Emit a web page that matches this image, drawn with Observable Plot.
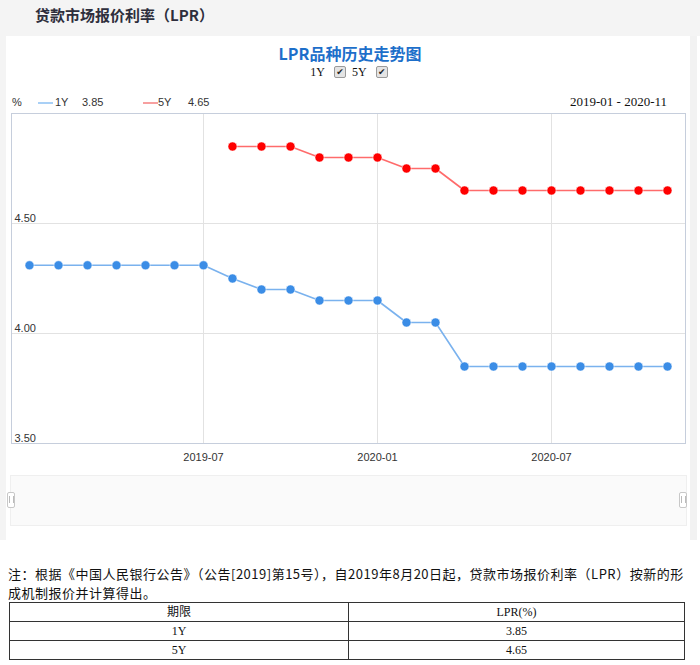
<!DOCTYPE html>
<html><head><meta charset="utf-8">
<script src="https://cdn.jsdelivr.net/npm/d3@7"></script>
<script src="https://cdn.jsdelivr.net/npm/@observablehq/plot@0.6"></script>
<style>
body{margin:0;width:700px;height:665px;position:relative;background:#fff;font-family:Arial,"Liberation Sans","Noto Sans CJK SC",sans-serif;overflow:hidden}
.abs{position:absolute}
#top{left:0;top:0;width:700px;height:36px;background:#f4f4f4}
#lstrip{left:0;top:36px;width:6px;height:504px;background:#f4f4f4}
#rstrip{left:690px;top:36px;width:7px;height:504px;background:#f2f2f2}
#head{left:35px;top:5px;font:bold 15px "Noto Sans CJK SC";color:#2e2e3c;line-height:20px;white-space:nowrap}
#title{left:0;width:700px;top:43px;text-align:center;font:bold 16px "Noto Sans CJK SC";color:#1d6fca;line-height:20px}
#sel{left:2px;width:700px;top:64px;text-align:center;font:12px "Liberation Serif","Noto Sans CJK SC";color:#111;line-height:16px}
.cb{display:inline-block;width:10px;height:10px;border:1px solid #9a9a9a;background:#e4e4e4;border-radius:2px;font:9px "DejaVu Sans";line-height:10px;text-align:center;color:#222;vertical-align:1px;margin:0 6px 0 9px}
.leg{top:95px;font:11px Arial,"Liberation Sans";color:#333;line-height:14px;white-space:nowrap}
.sw{top:102px;height:2px;width:15px}
#range{right:33px;top:94px;font:13px "Liberation Serif";color:#111;line-height:15px;white-space:nowrap}
#chart{left:0;top:108px}
#nav{left:10px;top:475px;width:675px;height:49px;background:#fafafa;border:1px solid #efefef}
.hd{top:492px;width:6px;height:14px;background:#fff;border:1px solid #c8c8c8;border-radius:2px}
.hd:after{content:"";position:absolute;left:1px;top:3px;width:3px;height:7px;border-left:1px solid #bbb;border-right:1px solid #bbb}
.note{left:8px;font:13px "Noto Sans CJK SC";letter-spacing:0.5px;color:#111;line-height:16px;white-space:nowrap}
#tbl{left:9px;top:602px;border-collapse:collapse;font:12px "Liberation Serif","Noto Sans CJK SC";color:#111}
#tbl td{border:1px solid #333;height:18px;padding:0;text-align:center;line-height:18px}
</style></head>
<body>
<div id="top" class="abs"></div>
<div id="lstrip" class="abs"></div>
<div id="rstrip" class="abs"></div>
<div id="head" class="abs">贷款市场报价利率（LPR）</div>
<div id="title" class="abs">LPR品种历史走势图</div>
<div id="sel" class="abs"></div>
<div id="legend"></div>
<div id="range" class="abs"></div>
<div id="chart" class="abs"></div>
<div id="nav" class="abs"></div>
<div class="abs hd" style="left:7px"></div>
<div class="abs hd" style="left:679px"></div>
<div class="abs note" style="top:566px">注：根据《中国人民银行公告》（公告[2019]第15号），自2019年8月20日起，贷款市场报价利率（LPR）按新的形</div>
<div class="abs note" style="top:585px">成机制报价并计算得出。</div>
<table id="tbl" class="abs"></table>
<script>
const months = ["2019-01","2019-02","2019-03","2019-04","2019-05","2019-06","2019-07","2019-08","2019-09","2019-10","2019-11","2019-12",
                "2020-01","2020-02","2020-03","2020-04","2020-05","2020-06","2020-07","2020-08","2020-09","2020-10","2020-11"];
const rate1Y = [4.31,4.31,4.31,4.31,4.31,4.31,4.31,4.25,4.20,4.20,4.15,4.15,4.15,4.05,4.05,3.85,3.85,3.85,3.85,3.85,3.85,3.85,3.85];
const rate5Y = [null,null,null,null,null,null,null,4.85,4.85,4.85,4.80,4.80,4.80,4.75,4.75,4.65,4.65,4.65,4.65,4.65,4.65,4.65,4.65];
const seriesNames = ["1Y","5Y"];
const latest = ["3.85","4.65"];
const xTicks = ["2019-07","2020-01","2020-07"];
const yTicks = [3.5,4.0,4.5];
const yGrid = [4.0,4.5];
const rangeLabel = "2019-01 - 2020-11";
const tableHeader = ["期限","LPR(%)"];

const lineColors = ["#7ab2ee","#ff6b6b"];
const dotColors = ["#3b8de6","#ff0000"];
const legColors = ["#a9d0f6","#f7a0a0"];

document.getElementById("sel").innerHTML = seriesNames.map(s => `${s}<span class="cb">✔</span>`).join("");
const legPos = [{sw:38,name:55,val:82},{sw:143,name:158,val:188}];
let lh = `<span class="abs leg" style="left:12px">%</span>`;
seriesNames.forEach((s,i)=>{
  lh += `<span class="abs sw" style="left:${legPos[i].sw}px;background:${legColors[i]}"></span>`;
  lh += `<span class="abs leg" style="left:${legPos[i].name}px">${s}</span>`;
  lh += `<span class="abs leg" style="left:${legPos[i].val}px">${latest[i]}</span>`;
});
document.getElementById("legend").innerHTML = lh;
document.getElementById("range").textContent = rangeLabel;
document.getElementById("tbl").innerHTML =
  `<tr><td style="width:338px">${tableHeader[0]}</td><td style="width:335px">${tableHeader[1]}</td></tr>` +
  seriesNames.map((s,i)=>`<tr><td>${s}</td><td>${latest[i]}</td></tr>`).join("");

const d1 = months.map((m,i)=>({month:m, rate:rate1Y[i]}));
const d5 = months.map((m,i)=>({month:m, rate:rate5Y[i]})).filter(d=>d.rate!=null);

const chart = Plot.plot({
  width: 700, height: 365,
  marginTop: 5, marginLeft: 11, marginRight: 15, marginBottom: 30,
  style: {background:"transparent", color:"#333", fontSize:"11px", fontFamily:"Arial, 'Liberation Sans', sans-serif"},
  x: {type:"point", domain: months, padding:0.5, align:0.5},
  y: {domain:[3.5,5.0]},
  marks: [
    Plot.ruleY(yGrid, {stroke:"#e2e2e2", strokeWidth:1}),
    Plot.ruleX(xTicks, {stroke:"#e2e2e2", strokeWidth:1}),
    Plot.frame({stroke:"#c6cedc"}),
    Plot.axisY(yTicks, {anchor:"left", tickSize:0, tickPadding:0, textAnchor:"start", dx:3, dy:-5, tickFormat:d=>d.toFixed(2), label:null}),
    Plot.axisX(xTicks, {anchor:"bottom", tickSize:0, tickPadding:10, label:null}),
    Plot.line(d1, {x:"month", y:"rate", stroke:lineColors[0], strokeWidth:1.6}),
    Plot.line(d5, {x:"month", y:"rate", stroke:lineColors[1], strokeWidth:1.6}),
    Plot.dot(d1, {x:"month", y:"rate", r:4.5, fill:dotColors[0], stroke:"#fff", strokeWidth:0.5}),
    Plot.dot(d5, {x:"month", y:"rate", r:4.5, fill:dotColors[1], stroke:"#fff", strokeWidth:0.5})
  ]
});
document.getElementById("chart").appendChild(chart);
</script>
</body></html>
